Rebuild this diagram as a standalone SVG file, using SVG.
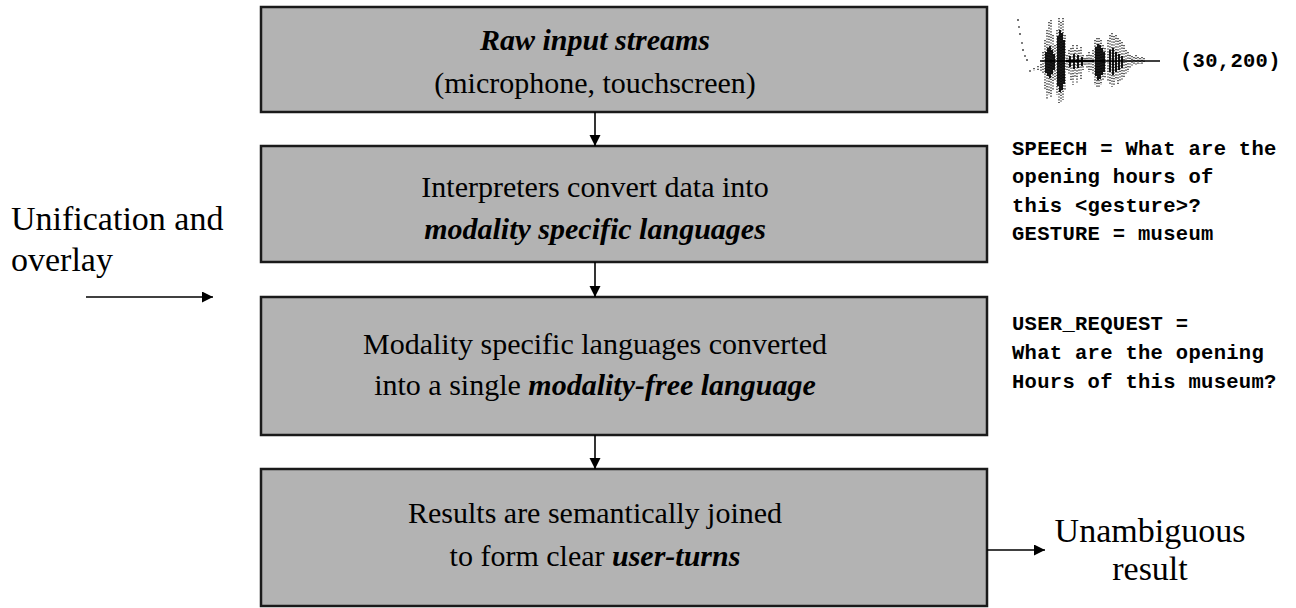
<svg xmlns="http://www.w3.org/2000/svg" width="1296" height="608" viewBox="0 0 1296 608">
  <style>
    .box { fill: #b3b3b3; stroke: #1a1a1a; stroke-width: 2.5; }
    .serif { font-family: "Liberation Serif", "Times New Roman", serif; fill: #000; }
    .boxtxt { font-size: 30px; text-anchor: middle; }
    .side { font-size: 34px; }
    .em { font-weight: bold; font-style: italic; }
    .mono { font-family: "Liberation Mono", "Courier New", monospace; font-weight: bold; font-size: 20.5px; fill: #000; letter-spacing: 0.3px; }
    .conn { stroke: #000; stroke-width: 1.6; fill: none; }
  </style>
  <defs>
    <marker id="arrow" markerUnits="userSpaceOnUse" markerWidth="12" markerHeight="12" refX="11" refY="5.5" orient="auto">
      <path d="M0,0 L11,5.5 L0,11 z" fill="#000"/>
    </marker>
  </defs>

  <rect width="1296" height="608" fill="#fff"/>

  <!-- pipeline stages -->
  <g id="node-raw-input">
    <rect class="box" x="261" y="7" width="726" height="105"/>
    <text class="serif boxtxt em" x="595" y="50">Raw input streams</text>
    <text class="serif boxtxt" x="595" y="93">(microphone, touchscreen)</text>
  </g>

  <g id="node-interpreters">
    <rect class="box" x="261" y="146" width="726" height="116"/>
    <text class="serif boxtxt" x="595" y="197">Interpreters convert data into</text>
    <text class="serif boxtxt em" x="595" y="239">modality specific languages</text>
  </g>

  <g id="node-modality-free">
    <rect class="box" x="261" y="297" width="726" height="138"/>
    <text class="serif boxtxt" x="595" y="354">Modality specific languages converted</text>
    <text class="serif boxtxt" x="595" y="395">into a single <tspan class="em">modality-free language</tspan></text>
  </g>

  <g id="node-user-turns">
    <rect class="box" x="261" y="469" width="726" height="137"/>
    <text class="serif boxtxt" x="595" y="523">Results are semantically joined</text>
    <text class="serif boxtxt" x="595" y="566">to form clear <tspan class="em">user-turns</tspan></text>
  </g>

  <!-- side labels -->
  <g id="node-unification">
    <text class="serif side" x="11" y="230">Unification and</text>
    <text class="serif side" x="11" y="271">overlay</text>
  </g>

  <g id="node-result">
    <text class="serif side" x="1150" y="542" text-anchor="middle">Unambiguous</text>
    <text class="serif side" x="1150" y="580" text-anchor="middle">result</text>
  </g>

  <!-- example annotations -->
  <g id="node-waveform">
    <!-- scattered outer samples -->
    <path stroke="#222" stroke-width="1.4" stroke-dasharray="1.2 1.6" fill="none"
      d="M1043 52V74 M1045 40V90 M1047 30V100 M1049 22V95 M1051 20V98 M1053 35V90 M1055 45V80
         M1057 30V95 M1059 18V103 M1061 22V103 M1063 18V100 M1065 35V90
         M1067 55V70 M1069 50V75 M1071 48V80 M1073 45V85 M1075 50V78 M1077 45V83 M1079 50V75 M1081 47V80 M1083 55V70 M1085 58V66 M1087 55V68 M1089 52V72 M1091 55V70 M1093 50V75
         M1095 40V85 M1097 38V88 M1099 38V87 M1101 40V85 M1103 45V80 M1105 48V78
         M1108 40V82 M1110 35V85 M1112 33V87 M1114 36V86 M1116 35V80 M1118 38V84 M1120 40V82 M1122 42V80 M1124 45V78 M1126 50V75 M1128 52V72 M1130 55V68
         M1132 56V66 M1134 57V65 M1136 55V66 M1138 57V64 M1140 58V64 M1142 57V65 M1144 58V63
         M1034 68V71 M1038 66V71 M1041 64V72"/>
    <!-- dense cores -->
    <path stroke="#000" stroke-width="1.8" fill="none"
      d="M1046 52V73 M1048 48V76 M1050 46V78 M1052 50V74 M1054 54V70
         M1058 36V86 M1060 30V92 M1062 33V90 M1064 40V84
         M1070 56V67 M1074 54V69 M1078 55V68 M1082 57V66
         M1096 47V76 M1098 44V80 M1100 45V79 M1102 48V75 M1104 52V72
         M1110 50V72 M1113 48V75 M1116 52V72 M1119 54V70 M1122 56V68"/>
    <path stroke="#000" stroke-width="1.6" fill="none" d="M1040 61H1160"/>
    <path stroke="#000" stroke-width="2.5" fill="none" d="M1066 61H1094"/>
    <g fill="#444">
      <circle cx="1018" cy="20" r="1"/>
      <circle cx="1019" cy="27" r="0.9"/>
      <circle cx="1020" cy="34" r="1"/>
      <circle cx="1022" cy="43" r="0.9"/>
      <circle cx="1023" cy="50" r="1"/>
      <circle cx="1025" cy="56" r="0.9"/>
      <circle cx="1027" cy="60" r="1"/>
      <circle cx="1030" cy="71" r="0.9"/>
    </g>
    <text class="mono" x="1180" y="67">(30,200)</text>
  </g>

  <g id="node-speech">
    <text class="mono" x="1012" y="155">SPEECH = What are the</text>
    <text class="mono" x="1012" y="183">opening hours of</text>
    <text class="mono" x="1012" y="212">this &lt;gesture&gt;?</text>
    <text class="mono" x="1012" y="240">GESTURE = museum</text>
  </g>

  <g id="node-user-request">
    <text class="mono" x="1012" y="330">USER_REQUEST =</text>
    <text class="mono" x="1012" y="359">What are the opening</text>
    <text class="mono" x="1012" y="388">Hours of this museum?</text>
  </g>

  <!-- connectors -->
  <g id="connectors">
    <line class="conn" x1="595" y1="112" x2="595" y2="146" marker-end="url(#arrow)"/>
    <line class="conn" x1="595" y1="262" x2="595" y2="297" marker-end="url(#arrow)"/>
    <line class="conn" x1="595" y1="435" x2="595" y2="469" marker-end="url(#arrow)"/>
    <line class="conn" x1="86" y1="297" x2="213" y2="297" marker-end="url(#arrow)"/>
    <line class="conn" x1="987" y1="550" x2="1045" y2="550" marker-end="url(#arrow)"/>
  </g>
</svg>
